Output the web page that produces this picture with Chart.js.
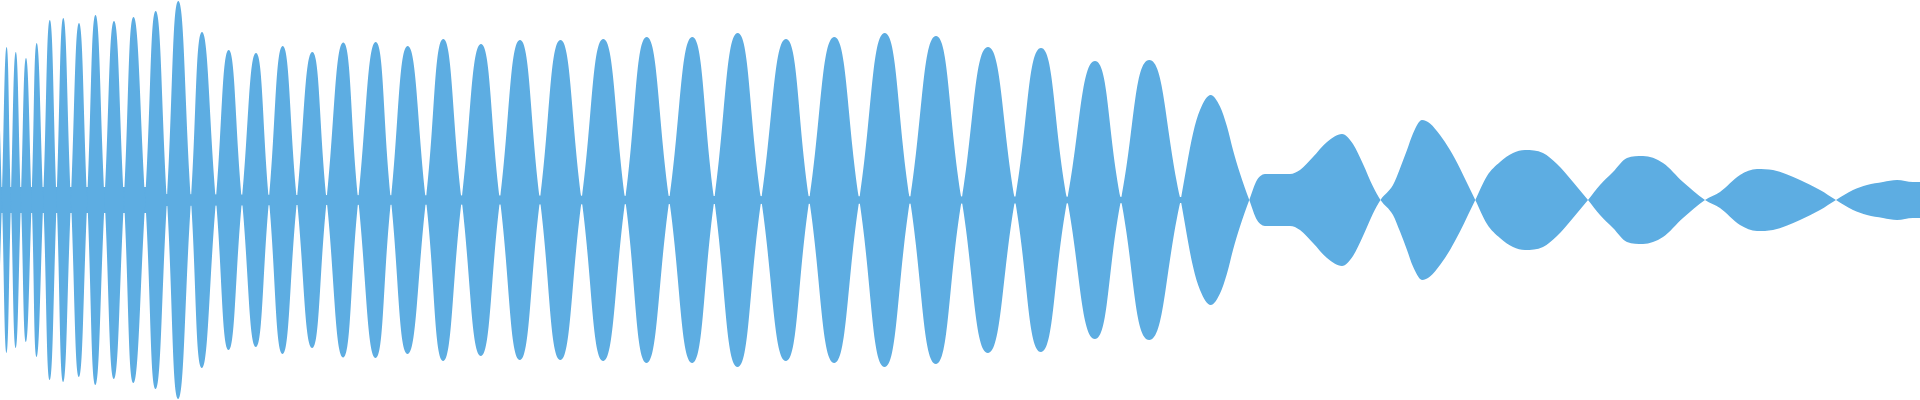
<!DOCTYPE html>
<html lang="en">
<head>
  <meta charset="UTF-8" />
  <title>Waveform</title>
  <script src="https://cdn.jsdelivr.net/npm/chart.js"></script>
  <style>
    html, body { margin: 0; padding: 0; background: #ffffff; }
    .chart-box { width: 1920px; height: 400px; position: relative; }
  </style>
</head>
<body>
  <div class="chart-box">
    <canvas id="waveChart"></canvas>
  </div>

<script>
// sample times (ms) and signed amplitude
const times = [
  0, 2, 6.6, 11, 15.8, 21, 26, 31.7, 36.7, 43.3, 49.8, 56.7, 63.3, 71, 79, 87.3,
  95.5, 104.7, 114, 124, 133.5, 145.3, 155.7, 167, 178.3, 191, 202, 216, 228.7, 242,
  256, 269, 282.7, 297, 312.3, 326.7, 343.3, 358.3, 375.7, 391, 407.7, 426, 443.3,
  461.7, 481, 500, 520, 540, 560.5, 581.7, 603.3, 625.3, 646.7, 669.3, 692.3, 714.3,
  737.7, 761.3, 786, 809.3, 834.3, 859.3, 884.7, 910, 936, 961.7, 988, 1015, 1041,
  1067.3, 1095, 1121, 1149.3, 1180.7,
  1193, 1200, 1210.7, 1220, 1227, 1233, 1240, 1249.3,
  1257, 1266, 1290, 1300, 1313, 1327, 1342, 1353, 1363, 1373, 1380.5,
  1393, 1400, 1407, 1413, 1422, 1430, 1440, 1450, 1460, 1468, 1475.3,
  1487, 1500, 1513, 1525, 1543, 1557, 1573, 1588,
  1600, 1613, 1627, 1643, 1663, 1683, 1705,
  1720, 1740, 1757, 1773, 1800, 1820, 1836,
  1853, 1867, 1883, 1897, 1913, 1920
];

const amplitude = [
  0.35, 0, -0.765, 0, 0.74, 0, -0.71, 0, 0.785, 0, -0.90, 0, 0.91, 0, -0.885, 0,
  0.925, 0, -0.895, 0, 0.915, 0, -0.945, 0, 0.995, 0, -0.84, 0, 0.75, 0,
  -0.735, 0, 0.77, 0, -0.74, 0, 0.787, 0, -0.79, 0, 0.77, 0, -0.805,
  0, 0.78, 0, -0.80, 0, 0.80, 0, -0.805, 0, 0.815, 0, -0.815, 0,
  0.835, 0, -0.805, 0, 0.815, 0, -0.835, 0, 0.82, 0, -0.765, 0, 0.76,
  0, -0.695, 0, 0.70, 0,
  -0.333, -0.45, -0.525, -0.467, -0.367, -0.25, -0.133, 0,
  0.10, 0.13, 0.13, 0.15, 0.215, 0.29, 0.33, 0.28, 0.18, 0.067, 0,
  -0.075, -0.158, -0.25, -0.333, -0.40, -0.383, -0.325, -0.25, -0.158, -0.075, 0,
  0.12, 0.19, 0.235, 0.25, 0.235, 0.18, 0.09, 0,
  -0.075, -0.14, -0.21, -0.22, -0.185, -0.09, 0,
  0.04, 0.125, 0.155, 0.15, 0.10, 0.05, 0,
  -0.05, -0.075, -0.09, -0.10, -0.09, -0.09
];

// the even early lobes use a bezier, the slower tail a monotone curve
const smoothEnd = 1180.7;

// low noise floor visible between the early lobes
const floorTimes = [0, 150, 162, 300, 700, 1000, 1180, 1240, 1249.3];
const floorLevel = [0.065, 0.065, 0.03, 0.025, 0.02, 0.018, 0.015, 0.01, 0];

const waveColor = '#5DADE2';

document.addEventListener('DOMContentLoaded', () => {
  const toPoints = (xs, ys, sign) => xs.map((x, i) => ({ x: x, y: sign * ys[i] }));
  const head = toPoints(times, amplitude, 1).filter(p => p.x <= smoothEnd);
  const tail = toPoints(times, amplitude, 1).filter(p => p.x >= smoothEnd);
  const flip = pts => pts.map(p => ({ x: p.x, y: -p.y }));

  const baseSet = {
    backgroundColor: waveColor,
    borderWidth: 0,
    pointRadius: 0,
    fill: 'origin'
  };

  const config = {
    type: 'line',
    data: {
      datasets: [
        Object.assign({}, baseSet, { label: 'Wave', data: head, tension: 0.5 }),
        Object.assign({}, baseSet, { label: 'Wave (mirror)', data: flip(head), tension: 0.5 }),
        Object.assign({}, baseSet, { label: 'Tail', data: tail, cubicInterpolationMode: 'monotone' }),
        Object.assign({}, baseSet, { label: 'Tail (mirror)', data: flip(tail), cubicInterpolationMode: 'monotone' }),
        Object.assign({}, baseSet, { label: 'Floor', data: toPoints(floorTimes, floorLevel, 1), tension: 0 }),
        Object.assign({}, baseSet, { label: 'Floor (mirror)', data: toPoints(floorTimes, floorLevel, -1), tension: 0 })
      ]
    },
    options: {
      responsive: true,
      maintainAspectRatio: false,
      animation: false,
      layout: { padding: 0 },
      plugins: {
        legend: { display: false },
        tooltip: { enabled: false }
      },
      scales: {
        x: { type: 'linear', min: 0, max: 1920, display: false },
        y: { min: -1, max: 1, display: false }
      }
    }
  };

  const ctx = document.getElementById('waveChart').getContext('2d');
  new Chart(ctx, config);
});
</script>
</body>
</html>
